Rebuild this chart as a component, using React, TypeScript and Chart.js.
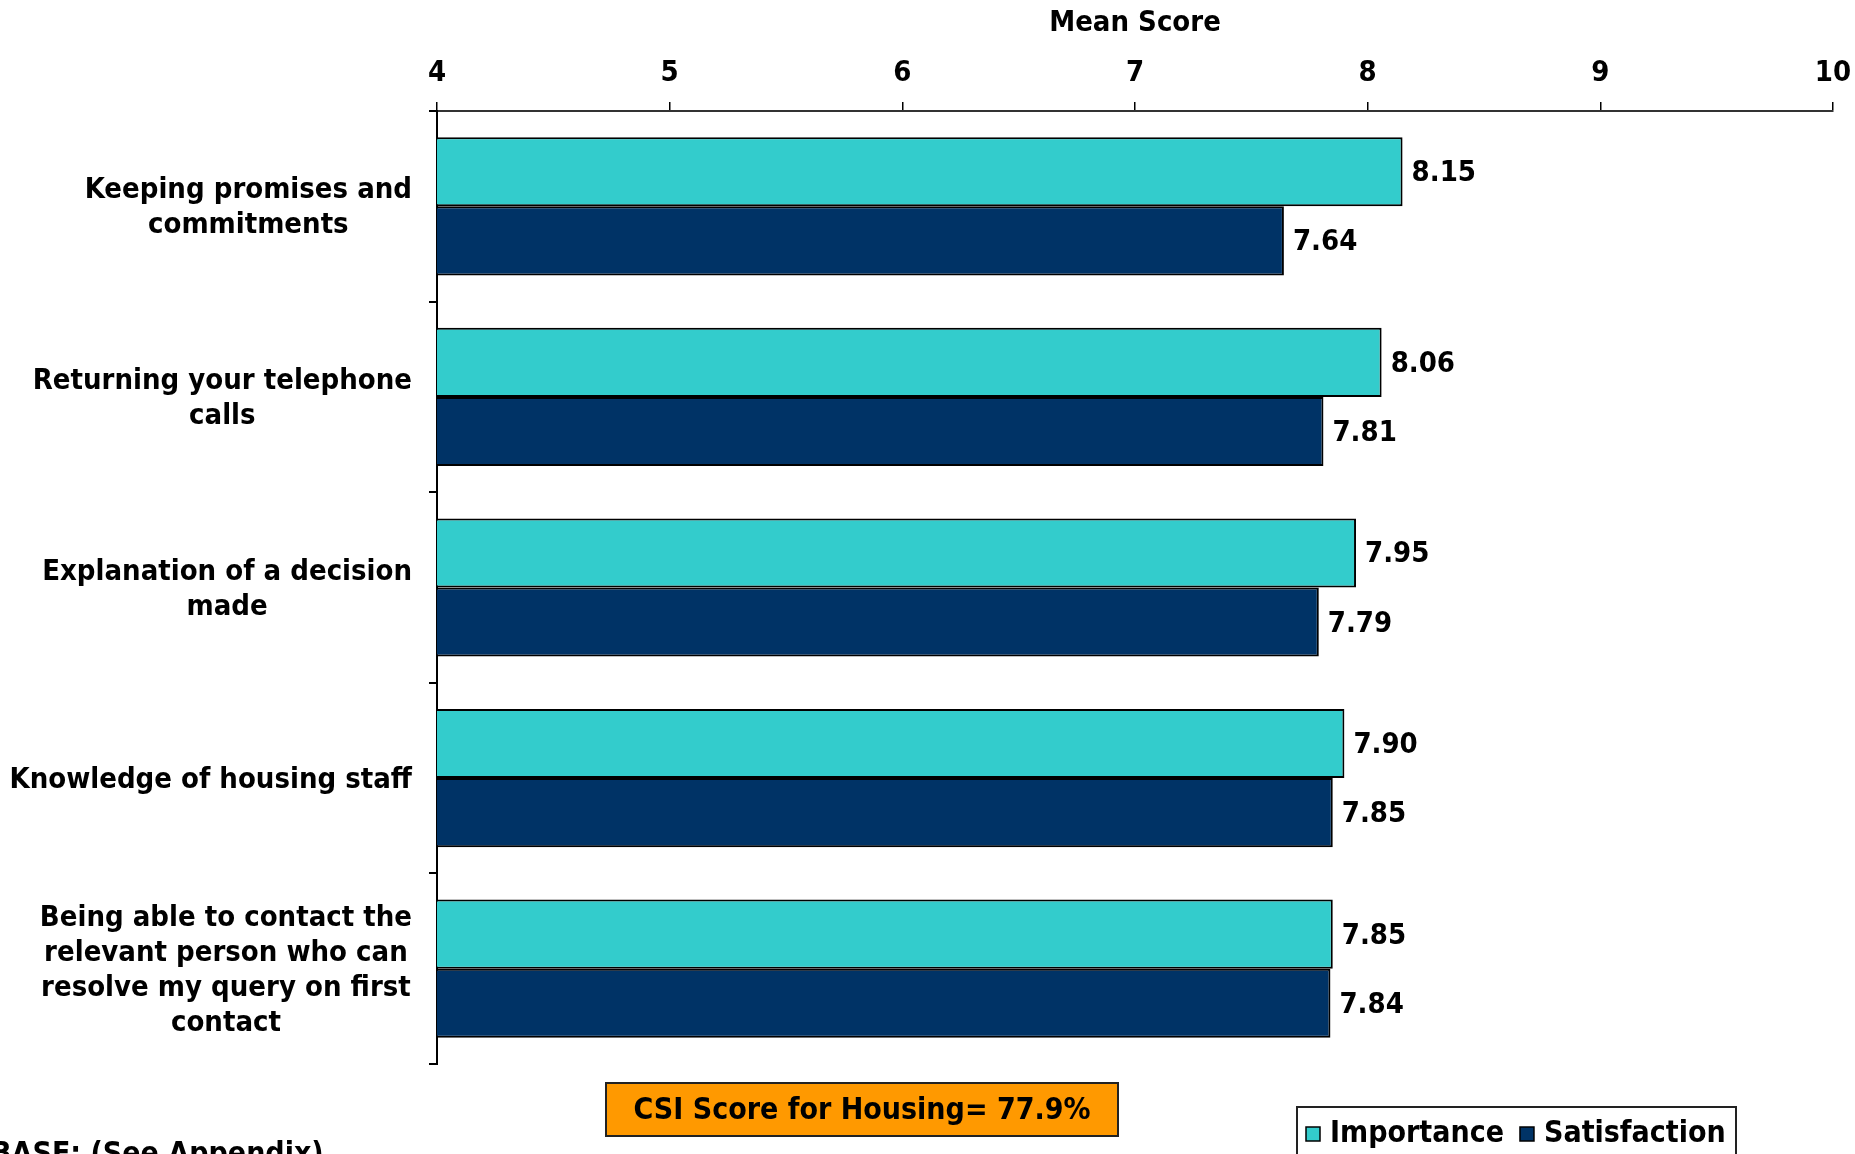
import React, { useEffect, useRef } from "react";
import { Chart, registerables } from "chart.js";

Chart.register(...registerables);

const categories: string[][] = [
  ["Keeping promises and", "commitments"],
  ["Returning your telephone", "calls"],
  ["Explanation of a decision", "made"],
  ["Knowledge of housing staff"],
  ["Being able to contact the", "relevant person who can", "resolve my query on first", "contact"],
];
const importance = [8.15, 8.06, 7.95, 7.9, 7.85];
const satisfaction = [7.64, 7.81, 7.79, 7.85, 7.84];
const seriesNames = ["Importance", "Satisfaction"];
const seriesColors = ["#33CCCC", "#003366"];
const axisMin = 4;
const axisMax = 10;
const axisTitle = "Mean Score";
const csiText = "CSI Score for Housing= 77.9%";
const baseText = "BASE: (See Appendix)";

const FAMILY = '"DejaVu Sans Condensed", "Liberation Sans", sans-serif';
const FONT = `bold 29px ${FAMILY}`;
const FONT_BIG = `bold 30px ${FAMILY}`;

const labelsPlugin = {
  id: "customLabels",
  afterDraw(chart: any) {
    const { ctx } = chart;
    const y = chart.scales.y;
    ctx.save();
    ctx.font = FONT;
    ctx.fillStyle = "#000";
    ctx.textBaseline = "middle";
    // category labels
    ctx.textAlign = "center";
    const right = y.right - 25;
    const lineH = 35;
    categories.forEach((lines, i) => {
      const cy = y.getPixelForValue(i) + 2;
      const maxW = Math.max(...lines.map((l) => ctx.measureText(l).width));
      const cx = right - maxW / 2;
      lines.forEach((l, j) => {
        ctx.fillText(l, cx, cy + (j - (lines.length - 1) / 2) * lineH);
      });
    });
    // value labels
    ctx.textAlign = "left";
    chart.data.datasets.forEach((ds: any, di: number) => {
      const meta = chart.getDatasetMeta(di);
      meta.data.forEach((el: any, i: number) => {
        ctx.fillText(Number(ds.data[i]).toFixed(2), el.x + 9, el.y + 2);
      });
    });
    // CSI box
    ctx.font = FONT_BIG;
    ctx.fillStyle = "#FF9900";
    ctx.fillRect(606, 1083, 512, 53);
    ctx.strokeStyle = "#222";
    ctx.lineWidth = 2;
    ctx.strokeRect(606, 1083, 512, 53);
    ctx.fillStyle = "#000";
    ctx.textAlign = "center";
    ctx.fillText(csiText, 862, 1111);
    // legend
    ctx.fillStyle = "#fff";
    ctx.fillRect(1297, 1107, 439, 60);
    ctx.strokeStyle = "#222";
    ctx.strokeRect(1297, 1107, 439, 60);
    let x = 1306;
    const ly = 1134;
    ctx.textAlign = "left";
    chart.data.datasets.forEach((ds: any) => {
      ctx.fillStyle = ds.backgroundColor;
      ctx.fillRect(x, ly - 7, 14, 14);
      ctx.strokeStyle = "#000";
      ctx.lineWidth = 1.5;
      ctx.strokeRect(x, ly - 7, 14, 14);
      x += 24;
      ctx.fillStyle = "#000";
      ctx.fillText(ds.label, x, ly);
      x += ctx.measureText(ds.label).width + 16;
    });
    // base text
    ctx.textAlign = "left";
    ctx.textBaseline = "alphabetic";
    ctx.font = `bold 30px ${FAMILY}`;
    ctx.fillText(baseText, -9, 1163);
    ctx.restore();
  },
};

export default function App() {
  const ref = useRef<HTMLCanvasElement>(null);
  useEffect(() => {
    if (!ref.current) return;
    const chart = new Chart(ref.current, {
      type: "bar",
      data: {
        labels: categories,
        datasets: [
          {
            label: seriesNames[0],
            data: importance,
            backgroundColor: seriesColors[0],
            borderColor: "#000",
            borderWidth: 2,
            borderSkipped: false,
          },
          {
            label: seriesNames[1],
            data: satisfaction,
            backgroundColor: seriesColors[1],
            borderColor: "#000",
            borderWidth: 2,
            borderSkipped: false,
          },
        ],
      },
      options: {
        indexAxis: "y",
        animation: false,
        responsive: false,
        devicePixelRatio: 1,
        layout: { padding: { left: 0, right: 22, top: 0, bottom: 90 } },
        datasets: { bar: { categoryPercentage: 0.725, barPercentage: 1.0 } },
        plugins: { legend: { display: false }, tooltip: { enabled: false } },
        scales: {
          x: {
            type: "linear",
            position: "top",
            min: axisMin,
            max: axisMax,
            ticks: { stepSize: 1, color: "#000", font: { family: FAMILY, size: 29, weight: "bold" }, padding: 11 },
            grid: { drawOnChartArea: false, tickLength: 9, color: "#000", lineWidth: 1.5 },
            border: { color: "#333", width: 2 },
            title: {
              display: true,
              text: axisTitle,
              color: "#000",
              font: { family: FAMILY, size: 29, weight: "bold" },
              padding: { top: 6, bottom: 12 },
            },
            afterFit: (s: any) => {
              s.height = 111;
              s.paddingLeft = 0;
              s.paddingRight = 0;
            },
          },
          y: {
            type: "category",
            position: "left",
            ticks: { display: false },
            grid: { drawOnChartArea: false, offset: true, tickLength: 8, color: "#000", lineWidth: 2 },
            border: { color: "#000", width: 2 },
            afterFit: (s: any) => {
              s.width = 437;
            },
          },
        },
      },
      plugins: [labelsPlugin],
    } as any);
    return () => chart.destroy();
  }, []);
  return (
    <div style={{ position: "absolute", left: 0, top: 0, width: 1855, height: 1154, background: "#fff" }}>
      <canvas ref={ref} width={1855} height={1154} style={{ display: "block" }} />
    </div>
  );
}
